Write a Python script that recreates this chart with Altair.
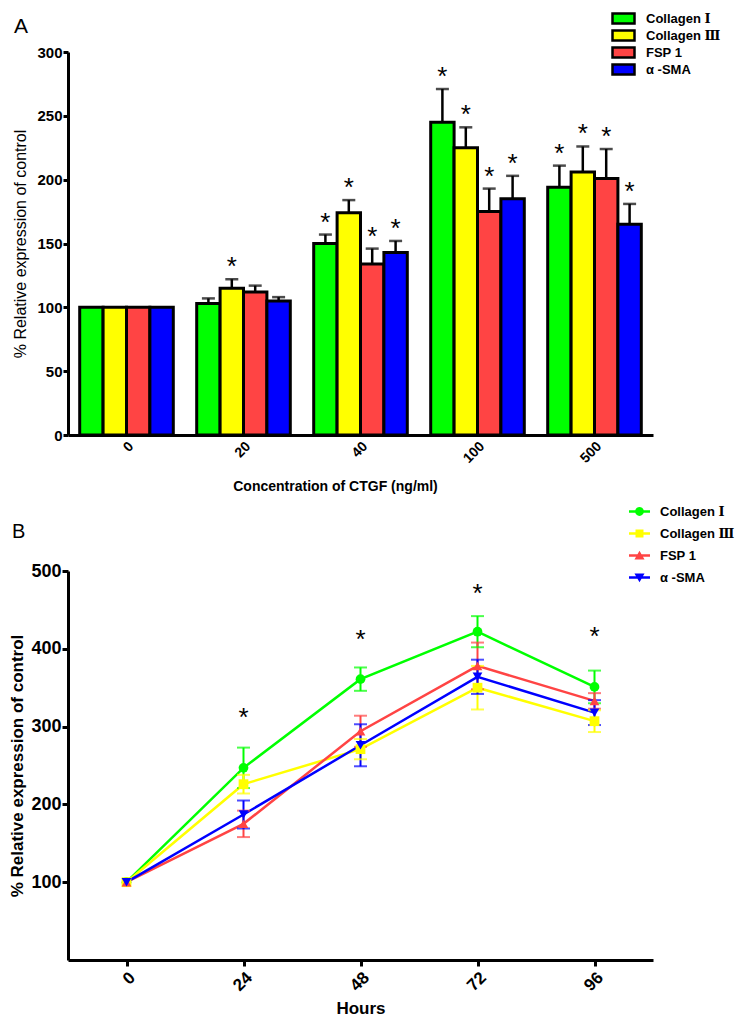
import altair as alt
import pandas as pd

FONT = "Liberation Sans, Arial, DejaVu Serif, sans-serif"

series = ["Collagen Ⅰ", "Collagen Ⅲ", "FSP 1", "α -SMA"]
colors = ["#00FF00", "#FFFF00", "#FF4444", "#0000FF"]

# ---------- Panel A: bars ----------
conc = ["0", "20", "40", "100", "500"]
a_col1 = [100, 103, 150, 245, 194]
a_col1_err = [0, 4, 7, 26, 17]
a_col3 = [100, 115, 174, 225, 206]
a_col3_err = [0, 7, 10, 16, 20]
a_fsp1 = [100, 112, 134, 175, 201]
a_fsp1_err = [0, 5, 12, 18, 23]
a_sma = [100, 105, 143, 185, 165]
a_sma_err = [0, 3, 9, 18, 16]
a_col1_sig = [0, 0, 1, 1, 1]
a_col3_sig = [0, 1, 1, 1, 1]
a_fsp1_sig = [0, 0, 1, 1, 1]
a_sma_sig = [0, 0, 1, 1, 1]

rowsA = []
for s, vals, errs, sig in zip(series, [a_col1, a_col3, a_fsp1, a_sma],
                              [a_col1_err, a_col3_err, a_fsp1_err, a_sma_err],
                              [a_col1_sig, a_col3_sig, a_fsp1_sig, a_sma_sig]):
    for c, v, e, g in zip(conc, vals, errs, sig):
        rowsA.append({"conc": c, "series": s, "value": v, "err": e, "hi": v + e, "star": g})
dfA = pd.DataFrame(rowsA)

# ---------- Panel B: lines ----------
hours = [0, 24, 48, 72, 96]
b_col1 = [100, 247, 361, 422, 351]
b_col1_err = [0, 26, 15, 20, 21]
b_col3 = [100, 226, 271, 350, 307]
b_col3_err = [0, 12, 13, 28, 14]
b_fsp1 = [100, 175, 294, 378, 333]
b_fsp1_err = [0, 17, 20, 30, 10]
b_sma = [100, 187, 276, 364, 318]
b_sma_err = [0, 18, 27, 22, 16]
b_star_pos = [None, 320, 420, 480, 424]

rowsB = []
for s, vals, errs in zip(series, [b_col1, b_col3, b_fsp1, b_sma],
                         [b_col1_err, b_col3_err, b_fsp1_err, b_sma_err]):
    for h, v, e in zip(hours, vals, errs):
        rowsB.append({"hours": h, "series": s, "value": v, "err": e, "lo": v - e, "hi": v + e})
dfB = pd.DataFrame(rowsB)
dfStar = pd.DataFrame({"hours": hours, "pos": b_star_pos}).dropna()

# ---------- Panel A chart ----------
xA = alt.X("conc:N", sort=conc,
           scale=alt.Scale(paddingInner=0.2, paddingOuter=0.1),
           axis=alt.Axis(title="Concentration of CTGF (ng/ml)", labelAngle=315,
                         ticks=False, domainWidth=3, domainColor="black",
                         labelFontSize=14, labelFontWeight="bold", labelColor="black",
                         labelFont=FONT, labelPadding=4,
                         titleFontSize=14, titleFontWeight="bold", titleFont=FONT,
                         titleColor="black", titlePadding=14, titleX=267))
xoffA = alt.XOffset("series:N", sort=series, scale=alt.Scale(paddingInner=0, paddingOuter=0))
yA_axis = alt.Axis(title="% Relative expression of control", values=[0, 50, 100, 150, 200, 250, 300],
                   tickSize=5, tickWidth=3, tickColor="black", domainWidth=3, domainColor="black",
                   labelFontSize=15, labelFontWeight="bold", labelColor="black", labelFont=FONT,
                   labelPadding=1, titleFontSize=16, titleFontWeight="normal", titleFont=FONT,
                   titleColor="black", titlePadding=8)
yA_scale = alt.Scale(domain=[0, 300], nice=False)

baseA = alt.Chart(dfA).encode(x=xA, xOffset=xoffA)

errA = baseA.transform_filter("datum.err > 0").mark_rule(color="black", strokeWidth=2.5).encode(
    y=alt.Y("value:Q", scale=yA_scale, axis=yA_axis), y2="hi:Q")
capA = baseA.transform_filter("datum.err > 0").mark_tick(color="black", thickness=2.5, size=13,
                                                          orient="horizontal").encode(
    y=alt.Y("hi:Q", scale=yA_scale))
barsA = baseA.mark_bar(stroke="black", strokeWidth=3).encode(
    y=alt.Y("value:Q", scale=yA_scale, axis=yA_axis),
    color=alt.Color("series:N", sort=series, scale=alt.Scale(domain=series, range=colors),
                    legend=alt.Legend(title=None, orient="none", legendX=545, legendY=-44,
                                      padding=4,
                                      symbolType="M-2.2,-1H2.2V1H-2.2Z", symbolSize=100,
                                      symbolStrokeColor="black", symbolStrokeWidth=2.5,
                                      labelFontSize=13, labelFontWeight="bold", labelFont=FONT,
                                      labelColor="black", labelOffset=16, rowPadding=-4.1)))
starA = baseA.transform_filter("datum.star == 1").mark_text(
    text="*", fontSize=26, font=FONT, color="black", dy=-4, baseline="alphabetic").encode(
    y=alt.Y("hi:Q", scale=yA_scale))

panelA = alt.layer(errA, capA, barsA, starA).properties(
    width=585, height=383,
    title=alt.TitleParams("A", anchor="start", frame="group", dx=-54, dy=10, offset=18,
                          fontSize=21, fontWeight="normal", font=FONT, color="black"))

# ---------- Panel B chart ----------
xB = alt.X("hours:Q", scale=alt.Scale(domain=[-12, 108], nice=False, zero=False),
           axis=alt.Axis(title="Hours", values=hours, labelAngle=315,
                         tickSize=6, tickWidth=3, tickColor="black",
                         domainWidth=3, domainColor="black",
                         labelFontSize=17, labelFontWeight="bold", labelColor="black",
                         labelFont=FONT, labelPadding=3,
                         titleFontSize=17, titleFontWeight="bold", titleFont=FONT,
                         titleColor="black", titlePadding=7))
yB_scale = alt.Scale(domain=[0, 500], nice=False)
yB_axis = alt.Axis(title="% Relative expression of control", values=[100, 200, 300, 400, 500],
                   tickSize=6, tickWidth=3, tickColor="black", domainWidth=3, domainColor="black",
                   labelFontSize=18, labelFontWeight="bold", labelColor="black", labelFont=FONT,
                   labelPadding=1, titleFontSize=17, titleFontWeight="bold", titleFont=FONT,
                   titleColor="black", titlePadding=4)
colB = alt.Color("series:N", sort=series, scale=alt.Scale(domain=series, range=colors), legend=None)

baseB = alt.Chart(dfB).encode(x=xB)

linesB = baseB.mark_line(strokeWidth=2.5).encode(
    y=alt.Y("value:Q", scale=yB_scale, axis=yB_axis), color=colB, detail="series:N")
errB = baseB.transform_filter("datum.err > 0").mark_rule(strokeWidth=2).encode(
    y=alt.Y("lo:Q", scale=yB_scale), y2="hi:Q", color=colB)
capLoB = baseB.transform_filter("datum.err > 0").mark_tick(thickness=2, size=13,
                                                           orient="horizontal").encode(
    y=alt.Y("lo:Q", scale=yB_scale), color=colB)
capHiB = baseB.transform_filter("datum.err > 0").mark_tick(thickness=2, size=13,
                                                           orient="horizontal").encode(
    y=alt.Y("hi:Q", scale=yB_scale), color=colB)
ptsB = baseB.mark_point(filled=True, size=95, opacity=1).encode(
    y=alt.Y("value:Q", scale=yB_scale), color=colB,
    shape=alt.Shape("series:N", sort=series,
                    scale=alt.Scale(domain=series,
                                    range=["circle", "square", "triangle-up", "triangle-down"]),
                    legend=None))

bar = "M-1,-0.11H1V0.11H-1Z "
legend_shapes = [
    bar + "M0.42,0A0.42,0.42 0 1,1 -0.42,0A0.42,0.42 0 1,1 0.42,0Z",
    bar + "M-0.38,-0.38H0.38V0.38H-0.38Z",
    bar + "M0,-0.45L0.48,0.38H-0.48Z",
    bar + "M0,0.45L-0.48,-0.38H0.48Z",
]
legB = alt.Legend(title=None, orient="none", legendX=561, legendY=-70, symbolSize=441,
                  padding=0, symbolOpacity=1, symbolStrokeWidth=0,
                  labelFontSize=13, labelFontWeight="bold", labelFont=FONT, labelColor="black",
                  labelOffset=10, rowPadding=4)
legendLayer = baseB.transform_filter("datum.value < -1000").mark_point(
    filled=True, size=441, opacity=1).encode(
    y=alt.Y("value:Q", scale=yB_scale),
    color=alt.Color("series:N", sort=series, scale=alt.Scale(domain=series, range=colors), legend=legB),
    shape=alt.Shape("series:N", sort=series, scale=alt.Scale(domain=series, range=legend_shapes),
                    legend=legB))

starB = alt.Chart(dfStar).mark_text(text="*", fontSize=26, font=FONT, color="black",
                                    dy=15, baseline="alphabetic").encode(
    x=alt.X("hours:Q", scale=alt.Scale(domain=[-12, 108], nice=False, zero=False)),
    y=alt.Y("pos:Q", scale=yB_scale))

panelB = alt.layer(linesB, errB, capLoB, capHiB, ptsB, starB, legendLayer).resolve_scale(
    color="independent", shape="independent").properties(
    width=585, height=389,
    title=alt.TitleParams("B", anchor="start", frame="group", dx=-56, dy=70, offset=29,
                          fontSize=20, fontWeight="normal", font=FONT, color="black"))

chart = alt.vconcat(panelA, panelB, spacing=136, bounds="flush").properties(
    padding={"left": 0, "top": 0, "right": 0, "bottom": 0}
).configure_view(stroke=None).configure_axis(grid=False)

chart.save("out.html", embed_options={"renderer": "svg", "actions": False})
